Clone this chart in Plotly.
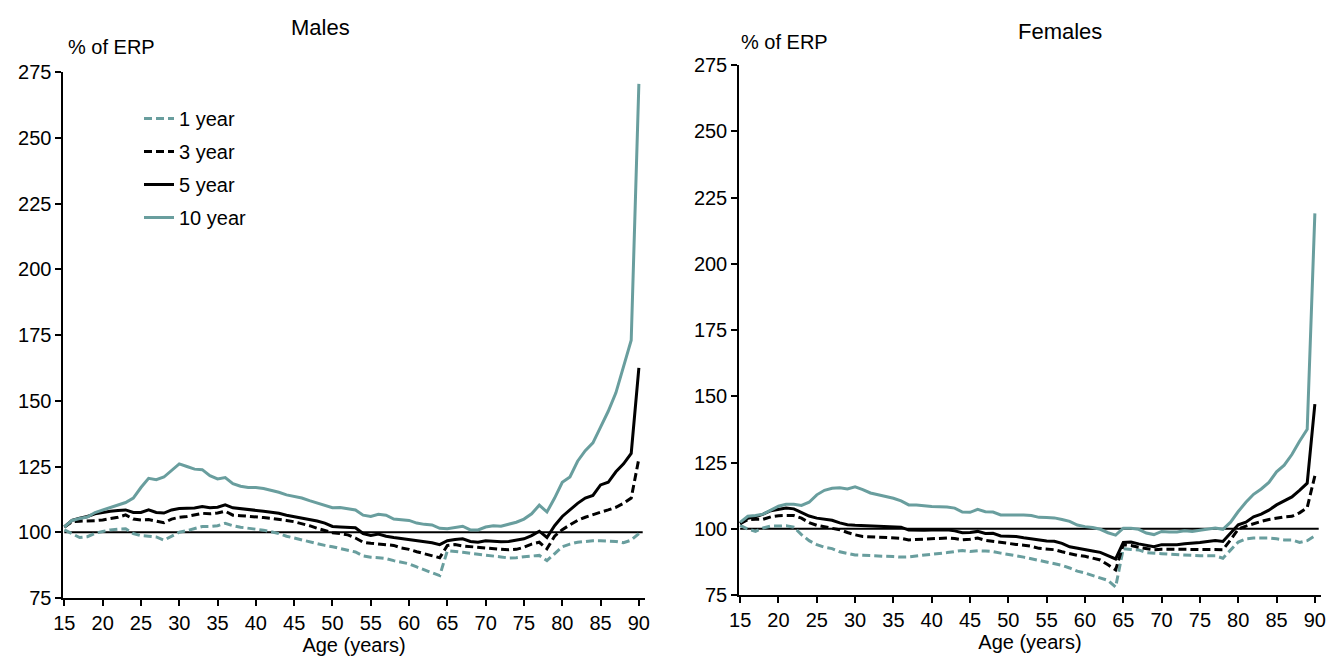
import plotly.graph_objects as go

ages = list(range(15, 91))
x_ticks = list(range(15, 91, 5))
y_ticks = list(range(75, 276, 25))
series_names = ["1 year", "3 year", "5 year", "10 year"]
REF_LEVEL = 100

male_1yr = [100.9, 99.5, 98.0, 98.3, 99.6, 100.3, 100.9, 101.2, 101.3, 99.5,
            98.7, 98.5, 98.2, 97.0, 98.5, 100.0, 100.6, 101.3, 102.2, 102.2,
            102.5, 103.4, 102.5, 101.9, 101.5, 101.3, 100.8, 100.2, 99.5, 98.5,
            97.8, 97.0, 96.3, 95.5, 95.0, 94.5, 93.8, 93.3, 92.5, 91.0,
            90.5, 90.3, 90.0, 89.2, 88.5, 88.0, 86.8, 85.8, 84.8, 83.5,
            93.0, 92.8, 92.4, 92.0, 91.7, 91.4, 91.1, 90.6, 90.2, 90.3,
            90.7, 91.0, 91.2, 89.2, 92.0, 94.5, 95.5, 96.2, 96.5, 96.8,
            96.8, 96.7, 96.5, 96.0, 97.0, 99.5]
male_3yr = [102.0, 104.0, 104.2, 104.2, 104.4, 104.7, 105.2, 105.7, 106.6, 105.0,
            104.7, 104.8, 104.2, 103.6, 105.0, 105.7, 106.0, 106.5, 107.2, 107.0,
            107.3, 108.0, 106.5, 106.3, 106.1, 106.0, 105.6, 105.3, 105.0, 104.5,
            104.0, 103.3, 102.5, 101.5, 100.5, 99.8, 99.5, 99.0, 97.8, 96.2,
            95.8, 95.6, 95.3, 95.0, 94.0, 93.5, 92.6, 91.8, 91.0, 90.3,
            95.0, 95.3, 94.8, 94.5, 94.2, 94.0, 93.7, 93.5, 93.3, 93.5,
            94.3, 95.5, 96.2, 93.7, 98.5, 101.0, 102.8, 104.5, 105.7, 106.8,
            107.6, 108.5, 109.5, 111.0, 113.0, 128.0]
male_5yr = [102.0, 104.5, 105.3, 106.0, 107.0, 107.6, 108.0, 108.3, 108.5, 107.5,
            107.5, 108.5, 107.5, 107.3, 108.5, 109.0, 109.2, 109.2, 109.8, 109.3,
            109.5, 110.4, 109.3, 109.0, 108.8, 108.5, 108.0, 107.6, 107.2, 106.5,
            106.0, 105.5, 105.0, 104.3, 103.5, 102.2, 102.0, 101.9, 101.7, 99.5,
            98.8, 99.3, 98.5, 98.0, 97.6, 97.3, 96.8, 96.5, 96.0, 95.3,
            96.8, 97.2, 97.5, 96.5, 96.2, 96.8, 96.5, 96.4, 96.5, 97.0,
            97.5, 98.7, 100.4, 98.0, 102.5, 106.0, 108.5, 111.0, 113.0, 114.0,
            118.0, 119.0, 123.0, 126.0, 130.0, 162.5]
male_10yr = [102.0, 104.5, 105.2, 105.8, 107.5, 108.5, 109.4, 110.3, 111.3, 113.0,
             117.0, 120.5, 120.0, 121.0, 123.5, 126.0, 125.0, 124.0, 123.8, 121.5,
             120.3, 120.8, 118.5, 117.5, 117.0, 117.0, 116.6, 116.0, 115.2, 114.2,
             113.5, 113.0, 112.0, 111.0, 110.3, 109.3, 109.4, 109.0, 108.5, 106.5,
             106.0, 106.8, 106.5, 105.0, 104.8, 104.5, 103.5, 103.0, 102.8, 101.5,
             101.3, 101.7, 102.3, 100.9, 100.9, 102.0, 102.5, 102.3, 103.0, 103.8,
             105.0, 107.0, 110.3, 107.7, 113.0, 119.0, 121.0, 127.0, 131.0, 134.0,
             140.0, 146.0, 153.0, 163.0, 173.0, 270.5]

female_1yr = [101.3, 99.9, 99.0, 100.3, 101.0, 101.1, 101.1, 100.6, 97.8, 95.5,
              94.0, 93.0, 92.5, 91.3, 90.6, 90.1, 90.0, 89.8, 89.7, 89.6,
              89.5, 89.3, 89.4, 89.7, 90.0, 90.2, 90.6, 91.0, 91.4, 91.8,
              91.4, 91.7, 91.6, 91.4, 90.8, 90.2, 89.8, 89.3, 88.7, 88.0,
              87.5, 87.0, 86.2, 85.2, 84.0, 83.3, 82.4, 81.6, 80.5, 78.0,
              92.5, 92.2, 92.0, 91.0, 90.7, 90.6, 90.4, 90.2, 90.0, 89.8,
              89.8, 89.8, 89.8, 88.9, 92.0, 95.0, 96.2, 96.5, 96.5, 96.5,
              96.2, 95.8, 95.8, 94.8, 95.5, 97.3]
female_3yr = [101.9, 103.4, 103.6, 103.6, 104.5, 104.9, 105.0, 105.0, 104.0, 102.3,
              101.3, 100.7, 100.3, 99.6, 98.6, 97.7, 97.1, 97.0, 96.9, 96.8,
              96.6, 96.4, 95.8, 95.9, 96.0, 96.2, 96.3, 96.5, 96.3, 95.8,
              96.0, 96.5, 95.6, 95.2, 94.7, 94.3, 94.1, 93.8, 93.4, 92.6,
              92.3, 92.1, 91.3, 90.6, 90.0, 89.6, 89.0, 88.2, 86.4, 84.5,
              94.0, 93.7, 93.0, 92.5, 92.1, 92.3, 92.3, 92.1, 92.2, 92.3,
              92.3, 92.3, 92.2, 92.1, 95.8, 99.9, 101.0, 102.0, 102.8, 103.5,
              104.0, 104.5, 104.7, 106.0, 108.0, 120.0]
female_5yr = [102.0, 104.0, 104.5, 105.5, 106.8, 107.4, 107.8, 107.5, 106.2, 104.8,
              104.0, 103.6, 103.2, 102.2, 101.5, 101.3, 101.2, 101.1, 101.0, 100.9,
              100.8, 100.6, 99.5, 99.4, 99.4, 99.5, 99.6, 99.6, 99.2, 98.5,
              98.6, 99.0, 98.2, 98.3, 97.3, 97.2, 97.1, 96.6, 96.2, 95.6,
              95.4, 95.3, 94.5, 93.2, 92.6, 92.1, 91.6, 91.1, 89.8, 88.6,
              94.8, 95.0, 94.3, 93.8, 93.2, 94.0, 94.0, 94.0, 94.3, 94.5,
              94.8, 95.2, 95.6, 95.2, 98.5, 101.5, 102.5, 104.5, 105.5, 107.0,
              109.0, 110.5, 112.0, 114.5, 117.2, 147.0]
female_10yr = [102.4, 104.7, 105.0, 105.5, 107.0, 108.5, 109.2, 109.2, 108.8, 110.0,
               112.8, 114.5, 115.3, 115.5, 115.0, 115.8, 114.8, 113.5, 112.8, 112.2,
               111.5, 110.5, 109.0, 109.0, 108.6, 108.4, 108.3, 108.2, 107.8, 106.3,
               106.2, 107.3, 106.4, 106.3, 105.2, 105.2, 105.4, 105.2, 105.0, 104.3,
               104.2, 104.1, 103.5, 102.8, 101.4, 100.8, 100.5, 99.8, 98.5, 97.6,
               100.2, 100.2, 99.8, 98.4, 97.8, 99.0, 98.8, 98.8, 99.2, 99.0,
               99.4, 99.8, 100.3, 99.8, 102.5, 106.5, 110.0, 113.0, 115.0, 117.5,
               121.5, 124.0, 128.0, 133.0, 137.5, 219.0]

TEAL = "#699e9e"
BLACK = "#000000"
FONT = "Liberation Sans, Arial, sans-serif"
styles = [
    dict(color=TEAL, dash="8px,4px"),
    dict(color=BLACK, dash="8px,4px"),
    dict(color=BLACK, dash="solid"),
    dict(color=TEAL, dash="solid"),
]

W, H = 1333, 663

def px_x(p):
    return p / W

def px_y(p):
    return 1 - p / H

fig = go.Figure()
male = [male_1yr, male_3yr, male_5yr, male_10yr]
female = [female_1yr, female_3yr, female_5yr, female_10yr]
for i, (name, st) in enumerate(zip(series_names, styles)):
    fig.add_trace(go.Scatter(x=ages, y=male[i], name=name, mode="lines",
                             line=dict(color=st["color"], dash=st["dash"], width=3),
                             xaxis="x", yaxis="y", legendgroup=name, showlegend=True))
    fig.add_trace(go.Scatter(x=ages, y=female[i], name=name, mode="lines",
                             line=dict(color=st["color"], dash=st["dash"], width=3),
                             xaxis="x2", yaxis="y2", legendgroup=name, showlegend=False))

# reference line at 100%
for xr, yr in (("x", "y"), ("x2", "y2")):
    fig.add_shape(type="line", xref=xr, yref=yr, x0=ages[0], x1=ages[-1] + 0.5,
                  y0=REF_LEVEL, y1=REF_LEVEL, line=dict(color="black", width=2), layer="below")

xax = dict(range=[14.85, 90.8], tickmode="array", tickvals=x_ticks, ticks="outside",
           ticklen=6, tickwidth=1.5, tickcolor="black", showline=True, linecolor="black",
           linewidth=1.5, showgrid=False, zeroline=False, automargin=False,
           tickfont=dict(family=FONT, size=20, color="black"),
           title=dict(text="Age (years)", font=dict(family=FONT, size=20, color="black"), standoff=4))
yax = dict(range=[75, 275], tickmode="array", tickvals=y_ticks, ticks="outside",
           ticklen=6, tickwidth=1.5, tickcolor="black", showline=True, linecolor="black",
           linewidth=1.5, showgrid=False, zeroline=False, automargin=False,
           tickfont=dict(family=FONT, size=20, color="black"))

fig.update_layout(
    width=W, height=H,
    margin=dict(l=0, r=0, t=0, b=0, autoexpand=False),
    paper_bgcolor="white", plot_bgcolor="white",
    font=dict(family=FONT, size=20, color="black"),
    xaxis=dict(xax, domain=[px_x(63.2), px_x(645)], anchor="y"),
    yaxis=dict(yax, domain=[px_y(598), px_y(72)], anchor="x"),
    xaxis2=dict(xax, domain=[px_x(739), px_x(1321)], anchor="y2"),
    yaxis2=dict(yax, domain=[px_y(595), px_y(65)], anchor="x2"),
    showlegend=True,
    legend=dict(x=px_x(139), y=px_y(99), xanchor="left", yanchor="top",
                bgcolor="rgba(0,0,0,0)", font=dict(family=FONT, size=20, color="black"),
                tracegroupgap=4, traceorder="grouped"),
    annotations=[
        dict(text="Males", x=px_x(320), y=px_y(28), xref="paper", yref="paper",
             showarrow=False, font=dict(family=FONT, size=22, color="black"),
             xanchor="center", yanchor="middle"),
        dict(text="Females", x=px_x(1060), y=px_y(31), xref="paper", yref="paper",
             showarrow=False, font=dict(family=FONT, size=22, color="black"),
             xanchor="center", yanchor="middle"),
        dict(text="% of ERP", x=px_x(66), y=px_y(47), xref="paper", yref="paper",
             showarrow=False, font=dict(family=FONT, size=20, color="black"),
             xanchor="left", yanchor="middle"),
        dict(text="% of ERP", x=px_x(739), y=px_y(42), xref="paper", yref="paper",
             showarrow=False, font=dict(family=FONT, size=20, color="black"),
             xanchor="left", yanchor="middle"),
    ],
)

fig.write_html("out.html")
